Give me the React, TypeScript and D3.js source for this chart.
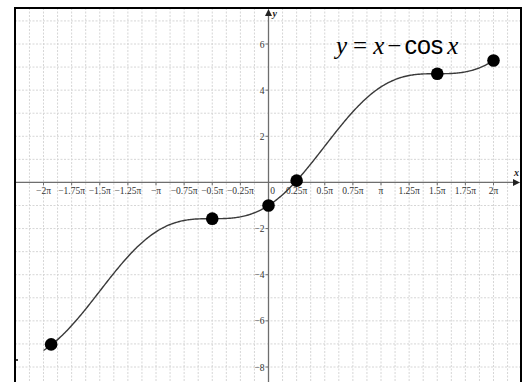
import React from "react";
import * as d3 from "d3";

const PI = Math.PI;

// Labelled x ticks in multiples of π
const xTickMultiples = [-2, -1.75, -1.5, -1.25, -1, -0.75, -0.5, -0.25, 0, 0.25, 0.5, 0.75, 1, 1.25, 1.5, 1.75, 2];
const xTickLabels = ["−2π", "−1.75π", "−1.5π", "−1.25π", "−π", "−0.75π", "−0.5π", "−0.25π", "0", "0.25π", "0.5π", "0.75π", "π", "1.25π", "1.5π", "1.75π", "2π"];
const yTickValues = [6, 4, 2, -2, -4, -6, -8];

// Highlighted points on the curve
const pointX = [-6.07, -PI / 2, 0, PI / 4, (3 * PI) / 2, 2 * PI];
const pointY = [-7.02, -1.571, -1, 0.078, 4.712, 5.283];

const W = 525;
const H = 382;
const frame = { left: 15, top: 8, right: 521, bottom: 382 };

const fn = (x: number) => x - Math.cos(x);

export default function App() {
  const x = d3.scaleLinear().domain([-2 * PI, 2 * PI]).range([43.5, 493.5]);
  const y = d3.scaleLinear().domain([-8, 6]).range([367, 44]);

  const x0 = x(0);
  const y0 = y(0);

  // grid: vertical every π/8, horizontal every unit
  const vGrid: number[] = [];
  for (let k = -20; k <= 20; k++) {
    const px = x((k * PI) / 8);
    if (px > frame.left + 1 && px < frame.right - 1) vGrid.push(px);
  }
  const hGrid: number[] = [];
  for (let k = -10; k <= 9; k++) {
    const py = y(k);
    if (py > frame.top + 1 && py < frame.bottom) hGrid.push(py);
  }

  const samples = d3.range(-2 * PI, 2 * PI + 0.0001, (4 * PI) / 400).map((t) => [t, fn(t)] as [number, number]);
  const line = d3
    .line<[number, number]>()
    .x((d) => x(d[0]))
    .y((d) => y(d[1]));

  const serif = "'Liberation Serif', 'Times New Roman', serif";
  const sans = "'Liberation Sans', Arial, sans-serif";

  return (
    <svg width={W} height={H} style={{ position: "absolute", left: 0, top: 0, background: "#fff" }}>
      <rect x={0} y={0} width={W} height={H} fill="#fff" />
      <g stroke="#d6d6d6" strokeWidth={1} strokeDasharray="2,1.5">
        {vGrid.map((px, i) => (
          <line key={"v" + i} x1={px} x2={px} y1={frame.top} y2={frame.bottom} />
        ))}
        {hGrid.map((py, i) => (
          <line key={"h" + i} x1={frame.left} x2={frame.right} y1={py} y2={py} />
        ))}
      </g>

      {/* axes */}
      <line x1={frame.left} x2={517} y1={y0} y2={y0} stroke="#6e6e6e" strokeWidth={1.3} />
      <path d={`M${520},${y0} L${513},${y0 - 3.5} L${513},${y0 + 3.5} Z`} fill="#222" />
      <line x1={x0} x2={x0} y1={frame.bottom} y2={12} stroke="#6e6e6e" strokeWidth={1.3} />
      <path d={`M${x0},${9} L${x0 - 3.5},${16} L${x0 + 3.5},${16} Z`} fill="#222" />

      {/* x ticks */}
      {xTickMultiples.map((m, i) => (
        <g key={"xt" + i}>
          {m !== 0 && <line x1={x(m * PI)} x2={x(m * PI)} y1={y0} y2={y0 + 3} stroke="#6e6e6e" />}
          <text
            x={m === 0 ? x0 + 4 : x(m * PI)}
            y={y0 + 12}
            textAnchor="middle"
            fontFamily={serif}
            fontSize={9.5}
            fill="#333"
          >
            {xTickLabels[i]}
          </text>
        </g>
      ))}

      {/* y ticks */}
      {yTickValues.map((v, i) => (
        <g key={"yt" + i}>
          <line x1={x0 - 3} x2={x0} y1={y(v)} y2={y(v)} stroke="#6e6e6e" />
          <text x={x0 - 4} y={y(v) + 3.5} textAnchor="end" fontFamily={serif} fontSize={9.5} fill="#333">
            {String(v).replace("-", "−")}
          </text>
        </g>
      ))}

      {/* axis names */}
      <text x={514} y={176} fontFamily={serif} fontStyle="italic" fontWeight="bold" fontSize={10} fill="#222">
        x
      </text>
      <text x={x0 + 4} y={17} fontFamily={serif} fontStyle="italic" fontWeight="bold" fontSize={10} fill="#222">
        y
      </text>

      {/* curve */}
      <path d={line(samples) || ""} fill="none" stroke="#3a3a3a" strokeWidth={1.4} />

      {/* points */}
      {pointX.map((px, i) => (
        <circle key={"p" + i} cx={x(px)} cy={y(pointY[i])} r={6.3} fill="#000" />
      ))}

      {/* formula */}
      <text x={336} y={54} fontSize={25} fill="#000">
        <tspan fontFamily={serif} fontStyle="italic">y</tspan>
        <tspan fontFamily={serif} dx={6}>=</tspan>
        <tspan fontFamily={serif} fontStyle="italic" dx={6}>x</tspan>
        <tspan fontFamily={serif} dx={3}>−</tspan>
        <tspan fontFamily={sans} dx={3}>cos</tspan>
        <tspan fontFamily={serif} fontStyle="italic" dx={4}>x</tspan>
      </text>

      {/* frame */}
      <path
        d={`M${frame.left},${frame.bottom} L${frame.left},${frame.top} L${frame.right},${frame.top} L${frame.right},${frame.bottom}`}
        fill="none"
        stroke="#000"
        strokeWidth={2}
      />
      <line x1={frame.left} x2={frame.left + 3} y1={360} y2={360} stroke="#000" strokeWidth={1.5} />
    </svg>
  );
}
